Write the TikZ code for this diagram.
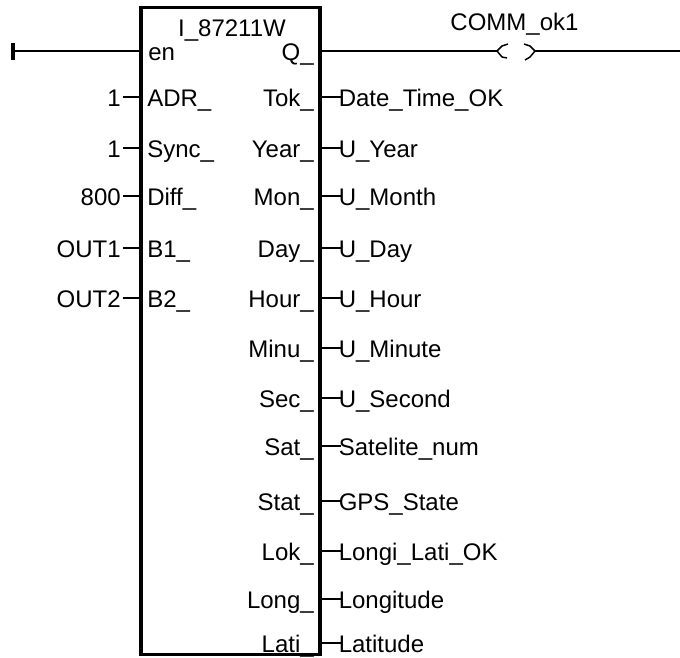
\documentclass[tikz,border=0pt]{standalone}
\usepackage{fontspec}
\setmainfont{Liberation Sans}
\usetikzlibrary{positioning}

\begin{document}
\begin{tikzpicture}[
  x=0.75pt, y=-0.75pt,
  txt/.style={font=\fontsize{18}{20}\selectfont, inner sep=0pt, text height=13.5pt, text depth=0pt},
  blk/.style={draw=black, line width=2.8pt, fill=white, minimum width=134.25pt, minimum height=485.25pt, inner sep=0pt},
  pinL/.style={txt, anchor=west},
  pinR/.style={txt, anchor=east},
  val/.style={txt, anchor=east},
  sig/.style={txt, anchor=west},
  wire/.style={line width=1.1pt, black}
]
\useasboundingbox (0,0) rectangle (680,657);
\node[blk] (Blk) at (230.5, 331) {};
\node[txt] (Title) at (232, 27) {I\_87211W};
\node[txt] (Coil) at (514.5, 21) {COMM\_ok1};
% enable rail and Q output
\node[pinL] (En) at (148, 51) {en};
\node[pinR] (Q) at (314, 51) {Q\_};
\coordinate (Rail) at (13, 51);
\coordinate (RailT) at (13, 43);
\coordinate (RailB) at (13, 60);
\coordinate (EnIn) at (141, 51);
\coordinate (QOut) at (320, 51);
\coordinate (CoilL) at (497, 51);
\coordinate (CoilR) at (535, 51);
\coordinate (RailEnd) at (680, 51);
\draw[line width=3pt] (RailT) -- (RailB);
\draw[wire] (Rail) -- (EnIn);
\draw[wire] (QOut) -- (CoilL);
\draw[wire] (CoilR) -- (RailEnd);
\draw[wire] (CoilL) ++(11,-7) -- ++(-6,2) -- (CoilL) -- ++(5,6) -- ++(5,1);
\draw[wire] (CoilR) ++(-11,-7) -- ++(6,2) -- (CoilR) -- ++(-5,6) -- ++(-5,3);
% inputs
\foreach \y/\name/\p/\v in {97/ADR\_/PA/1, 148/Sync\_/PB/1, 196/Diff\_/PC/800, 248/B1\_/PD/OUT1, 298/B2\_/PE/OUT2} {
  \node[pinL] (\p) at (147, \y) {\name};
  \node[val] (V\p) at (121, \y) {\v};
  \coordinate (I\p) at (141, \y);
  \draw[wire] (V\p.east) ++(2,0) -- (I\p);
}
% outputs
\foreach \y/\name/\p/\v in {97/Tok\_/OA/Date\_Time\_OK, 148/Year\_/OB/U\_Year, 196/Mon\_/OC/U\_Month,
    248/Day\_/OD/U\_Day, 298/Hour\_/OE/U\_Hour, 348/Minu\_/OF/U\_Minute, 398/Sec\_/OG/U\_Second,
    446/Sat\_/OH/Satelite\_num, 501/Stat\_/OI/GPS\_State, 551/Lok\_/OJ/Longi\_Lati\_OK,
    599/Long\_/OK/Longitude, 643/Lati\_/OL/Latitude} {
  \node[pinR] (\p) at (314, \y) {\name};
  \node[sig] (S\p) at (338.5, \y) {\v};
  \coordinate (T\p) at (320, \y);
  \draw[wire] (T\p) -- (S\p.west) -- ++(2,0);
}
\end{tikzpicture}
\end{document}
